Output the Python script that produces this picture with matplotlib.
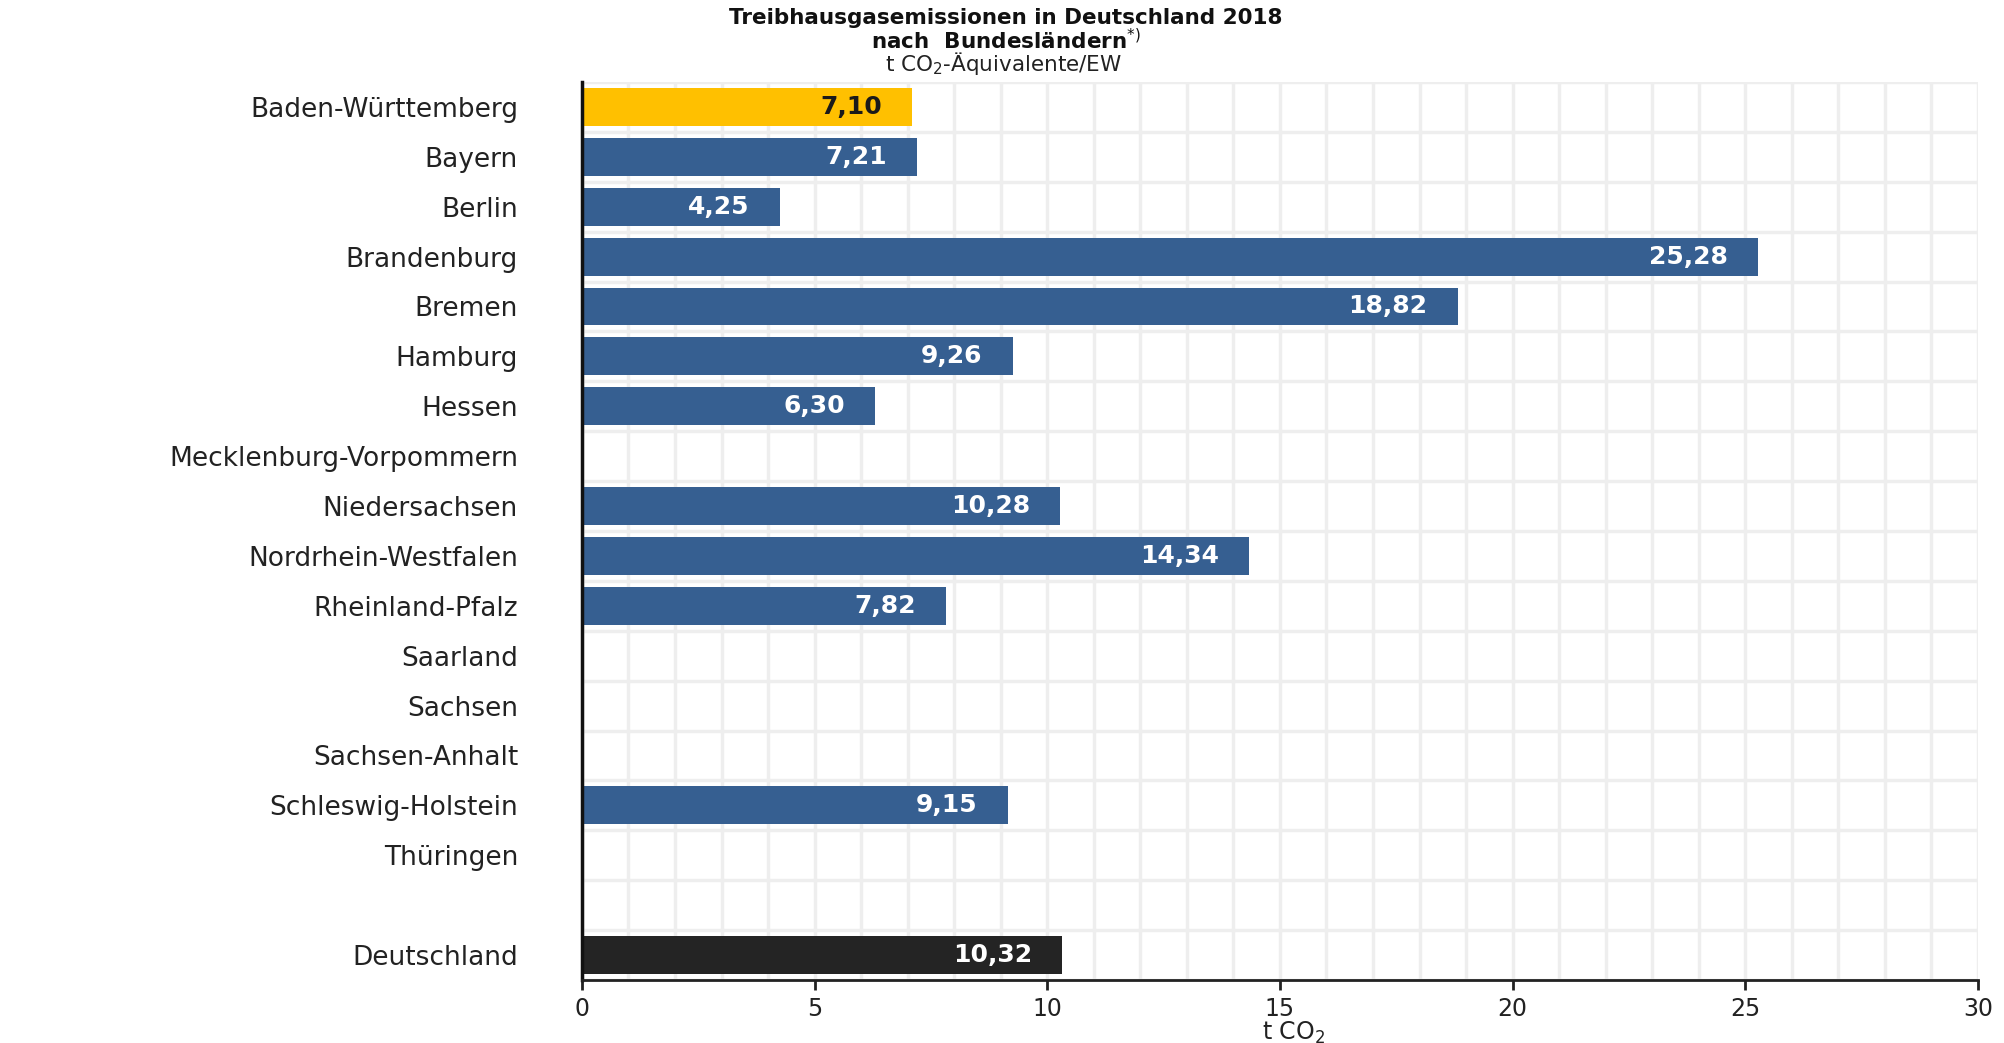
import numpy as np
import matplotlib
matplotlib.use("Agg")
import matplotlib.pyplot as plt

plt.rcParams['font.family'] = ['DejaVu Sans']

# data (t CO2-Aequivalente je Einwohner, 2018)
states = ["Baden-Württemberg", "Bayern", "Berlin", "Brandenburg", "Bremen",
          "Hamburg", "Hessen", "Mecklenburg-Vorpommern", "Niedersachsen",
          "Nordrhein-Westfalen", "Rheinland-Pfalz", "Saarland", "Sachsen",
          "Sachsen-Anhalt", "Schleswig-Holstein", "Thüringen"]
state_values = [7.10, 7.21, 4.25, 25.28, 18.82, 9.26, 6.30, np.nan, 10.28,
                14.34, 7.82, np.nan, np.nan, np.nan, 9.15, np.nan]
total_label = "Deutschland"
total_value = 10.32
x_ticks = [0, 5, 10, 15, 20, 25, 30]

# one empty row between the states and Germany
labels = states + ["", total_label]
values = state_values + [np.nan, total_value]

col_bw = "#FFC000"
col_blue = "#365F91"
col_de = "#242424"
colors = []
for lab in labels:
    if lab == "Baden-Württemberg":
        colors.append(col_bw)
    elif lab == total_label:
        colors.append(col_de)
    else:
        colors.append(col_blue)

fig = plt.figure(figsize=(20.04, 10.43), dpi=100)
ax = fig.add_axes([0.2904, 0.0604, 0.6966, 0.861])

y_pos = np.arange(len(labels))
vals = np.array(values, dtype=float)
mask = ~np.isnan(vals)
ax.barh(y_pos[mask], vals[mask], height=0.76,
        color=[c for c, m in zip(colors, mask) if m], zorder=2)

# value labels inside the bar ends
for y, v, lab in zip(y_pos, vals, labels):
    if np.isnan(v):
        continue
    txt_col = "#1a1a1a" if lab == "Baden-Württemberg" else "white"
    ax.text(v - 0.65, y, f"{v:.2f}".replace(".", ","), ha="right", va="center",
            color=txt_col, fontsize=18, fontweight="bold", zorder=3)

ax.set_xlim(0, 30)
ax.set_ylim(len(labels) - 0.5, -0.5)
ax.set_xticks(x_ticks)
ax.set_xticklabels([str(t) for t in x_ticks], fontsize=17, color="#222222")
ax.set_xticks(np.arange(0, 31, 1), minor=True)
ax.set_yticks(y_pos)
ax.set_yticklabels(labels, fontsize=19, color="#222222")
ax.set_yticks(np.arange(-0.5, len(labels), 1), minor=True)

ax.tick_params(axis="y", which="both", length=0, pad=46)
ax.tick_params(axis="x", which="major", length=7, width=2, color="#222222",
               direction="out", pad=5)
ax.tick_params(axis="x", which="minor", length=0)

ax.grid(which="minor", color="#eeeeee", linewidth=2.5, zorder=0)
ax.grid(which="major", axis="x", color="#eeeeee", linewidth=2.5, zorder=0)
ax.grid(which="major", axis="y", visible=False)
ax.set_axisbelow(True)

for s in ["top", "right"]:
    ax.spines[s].set_visible(False)
ax.spines["left"].set_linewidth(2.5)
ax.spines["left"].set_color("#111111")
ax.spines["bottom"].set_linewidth(2)
ax.spines["bottom"].set_color("#222222")

ax.set_xlabel("t CO$_2$", fontsize=17, color="#222222", va="center")
ax.xaxis.set_label_coords(0.51, -0.059)

# title block
fig.text(0.502, 0.992, "Treibhausgasemissionen in Deutschland 2018\nnach  Bundesländern$^{*)}$",
         ha="center", va="top", fontsize=15.5, fontweight="bold", color="#111111",
         linespacing=1.0)
fig.text(0.501, 0.939, "t CO$_2$-Äquivalente/EW",
         ha="center", va="center", fontsize=15.5, color="#222222")

plt.savefig("out.png", dpi=100)
plt.close()
